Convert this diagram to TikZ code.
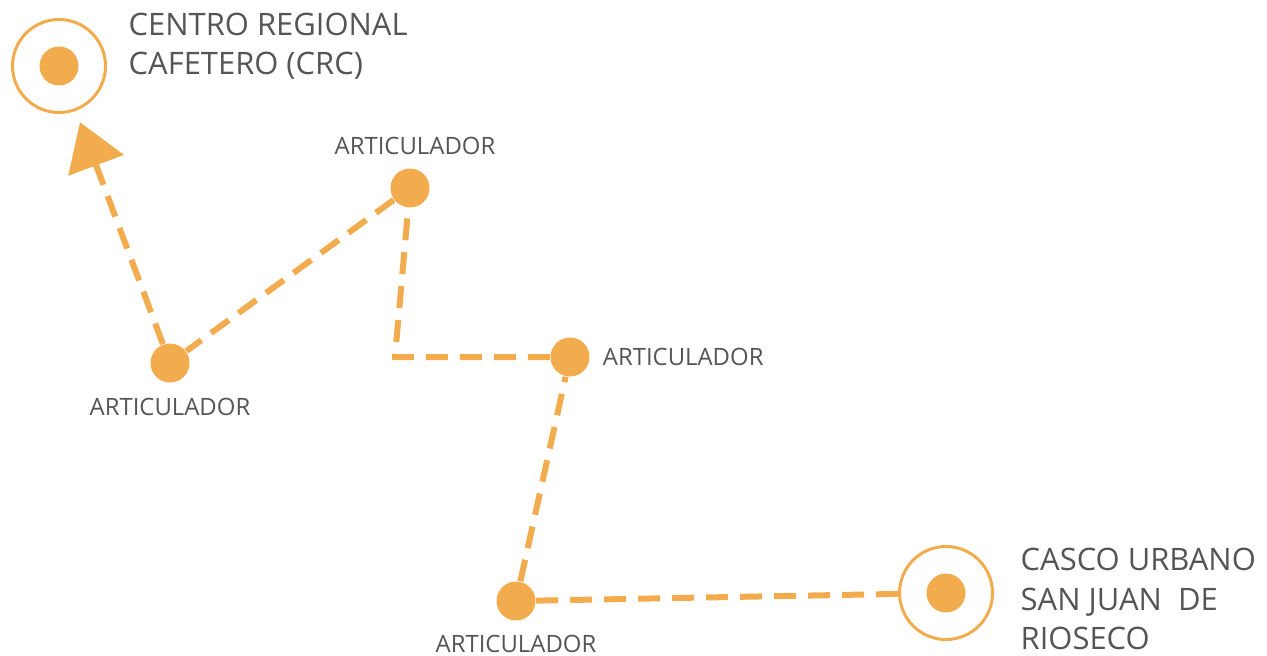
\documentclass[tikz,border=0pt]{standalone}
\usepackage{fontspec}
\setmainfont{Open Sans}
\usepackage{tikz}
\definecolor{cafeorange}{HTML}{F2AC4E}
\definecolor{labelgray}{HTML}{555555}
\usetikzlibrary{positioning}
\usetikzlibrary{arrows.meta}

\begin{document}
\begin{tikzpicture}[x=0.1mm,y=-0.1mm,
    dot/.style={circle,fill=cafeorange,inner sep=0pt,minimum size=3.9mm},
    hub/.style={circle,draw=cafeorange,line width=0.3mm,inner sep=0pt,minimum size=9.3mm},
    link/.style={draw=cafeorange,line width=0.6mm,dash pattern=on 2.2mm off 1.2mm},
    lbl/.style={text=labelgray,font=\fontsize{6.8}{8}\selectfont,inner sep=0pt},
    place/.style={text=labelgray,font=\fontsize{8.8}{11.2}\selectfont,align=left,inner sep=0pt}
]
\useasboundingbox (0,0) rectangle (1267,655);

% ends of the route
\node[hub] (crc) at (59,66) {};
\node[dot] (crcdot) at (crc) {};
\node[place,anchor=west] (crctxt) at (128,46) {CENTRO REGIONAL\\CAFETERO (CRC)};
\node[hub] (sjr) at (946,593) {};
\node[dot] (sjrdot) at (sjr) {};
\node[place,anchor=west] (sjrtxt) at (1020,599) {CASCO URBANO\\SAN JUAN~ DE\\RIOSECO};

% articuladores
\node[dot] (a1) at (170,363) {};
\node[dot] (a2) at (410,188) {};
\node[dot] (a3) at (570,357) {};
\node[dot] (a4) at (516,601) {};
\coordinate (bend) at (395,357);
\node[lbl,below=1.4mm of a1] (a1txt) {ARTICULADOR};
\node[lbl,above=1.2mm of a2,xshift=0.5mm] (a2txt) {ARTICULADOR};
\node[lbl,right=1.2mm of a3] (a3txt) {ARTICULADOR};
\node[lbl,below=1.3mm of a4] (a4txt) {ARTICULADOR};

% route
\draw[link] (a4) -- (sjr);
\draw[link] (a4) -- (a3);
\draw[link] (a3) -- (bend) -- (a2);
\draw[link] (a2) -- (a1);
\draw[link,-{Triangle[length=4.6mm,width=5.8mm]},shorten >=1.2mm] (a1) -- (crc);
\end{tikzpicture}
\end{document}
